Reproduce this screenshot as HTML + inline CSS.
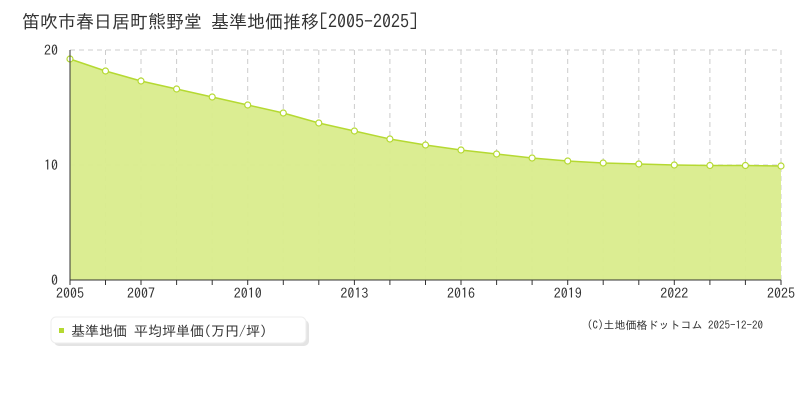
<!DOCTYPE html>
<html><head><meta charset="utf-8"><style>
body{margin:0;background:#fff;width:800px;height:400px;overflow:hidden;}
text{font-family:"IPAGothic","Noto Sans CJK JP",sans-serif;}
</style></head><body>
<svg width="800" height="400" xmlns="http://www.w3.org/2000/svg" style="position:absolute;left:0;top:0">
<text x="22" y="28" font-size="18" fill="#333">笛吹市春日居町熊野堂 基準地価推移[2005-2025]</text>
<g stroke="#ccc" stroke-dasharray="5,4" stroke-width="1">
<line x1="105.5" y1="50" x2="105.5" y2="280"/><line x1="141" y1="50" x2="141" y2="280"/><line x1="176.6" y1="50" x2="176.6" y2="280"/><line x1="212.2" y1="50" x2="212.2" y2="280"/><line x1="247.7" y1="50" x2="247.7" y2="280"/><line x1="283.3" y1="50" x2="283.3" y2="280"/><line x1="318.8" y1="50" x2="318.8" y2="280"/><line x1="354.4" y1="50" x2="354.4" y2="280"/><line x1="389.9" y1="50" x2="389.9" y2="280"/><line x1="425.5" y1="50" x2="425.5" y2="280"/><line x1="461" y1="50" x2="461" y2="280"/><line x1="496.6" y1="50" x2="496.6" y2="280"/><line x1="532.1" y1="50" x2="532.1" y2="280"/><line x1="567.7" y1="50" x2="567.7" y2="280"/><line x1="603.2" y1="50" x2="603.2" y2="280"/><line x1="638.8" y1="50" x2="638.8" y2="280"/><line x1="674.3" y1="50" x2="674.3" y2="280"/><line x1="709.9" y1="50" x2="709.9" y2="280"/><line x1="745.4" y1="50" x2="745.4" y2="280"/><line x1="781" y1="50" x2="781" y2="280"/>
<line x1="70" y1="50" x2="781" y2="50"/><line x1="70" y1="165" x2="781" y2="165"/>
</g>
<path d="M70,59 L105.5,71 L141,81 L176.6,89 L212.2,97 L247.7,105 L283.3,113 L318.8,123 L354.4,131 L389.9,139 L425.5,145 L461,150 L496.6,154 L532.1,158 L567.7,161 L603.2,163 L638.8,164 L674.3,165 L709.9,165.5 L745.4,165.5 L781,166 L781,280 L70,280 Z" fill="#d9ec8c" fill-opacity="0.95"/>
<polyline points="70,59 105.5,71 141,81 176.6,89 212.2,97 247.7,105 283.3,113 318.8,123 354.4,131 389.9,139 425.5,145 461,150 496.6,154 532.1,158 567.7,161 603.2,163 638.8,164 674.3,165 709.9,165.5 745.4,165.5 781,166" fill="none" stroke="#b5d932" stroke-width="1.5"/>
<g fill="#fff" stroke="#b5d932" stroke-width="1.2">
<circle cx="70" cy="59" r="3"/><circle cx="105.5" cy="71" r="3"/><circle cx="141" cy="81" r="3"/><circle cx="176.6" cy="89" r="3"/><circle cx="212.2" cy="97" r="3"/><circle cx="247.7" cy="105" r="3"/><circle cx="283.3" cy="113" r="3"/><circle cx="318.8" cy="123" r="3"/><circle cx="354.4" cy="131" r="3"/><circle cx="389.9" cy="139" r="3"/><circle cx="425.5" cy="145" r="3"/><circle cx="461" cy="150" r="3"/><circle cx="496.6" cy="154" r="3"/><circle cx="532.1" cy="158" r="3"/><circle cx="567.7" cy="161" r="3"/><circle cx="603.2" cy="163" r="3"/><circle cx="638.8" cy="164" r="3"/><circle cx="674.3" cy="165" r="3"/><circle cx="709.9" cy="165.5" r="3"/><circle cx="745.4" cy="165.5" r="3"/><circle cx="781" cy="166" r="3"/>
</g>
<line x1="70" y1="50" x2="70" y2="280" stroke="#333"/>
<line x1="70" y1="280" x2="781" y2="280" stroke="#333"/>
<g stroke="#333">
<line x1="70" y1="280" x2="70" y2="285"/><line x1="105.5" y1="280" x2="105.5" y2="285"/><line x1="141" y1="280" x2="141" y2="285"/><line x1="176.6" y1="280" x2="176.6" y2="285"/><line x1="212.2" y1="280" x2="212.2" y2="285"/><line x1="247.7" y1="280" x2="247.7" y2="285"/><line x1="283.3" y1="280" x2="283.3" y2="285"/><line x1="318.8" y1="280" x2="318.8" y2="285"/><line x1="354.4" y1="280" x2="354.4" y2="285"/><line x1="389.9" y1="280" x2="389.9" y2="285"/><line x1="425.5" y1="280" x2="425.5" y2="285"/><line x1="461" y1="280" x2="461" y2="285"/><line x1="496.6" y1="280" x2="496.6" y2="285"/><line x1="532.1" y1="280" x2="532.1" y2="285"/><line x1="567.7" y1="280" x2="567.7" y2="285"/><line x1="603.2" y1="280" x2="603.2" y2="285"/><line x1="638.8" y1="280" x2="638.8" y2="285"/><line x1="674.3" y1="280" x2="674.3" y2="285"/><line x1="709.9" y1="280" x2="709.9" y2="285"/><line x1="745.4" y1="280" x2="745.4" y2="285"/><line x1="781" y1="280" x2="781" y2="285"/>
</g>
<g font-size="14" fill="#333">
<text x="58" y="55" text-anchor="end">20</text><text x="58" y="170" text-anchor="end">10</text><text x="58" y="285" text-anchor="end">0</text>
<text x="70" y="298" text-anchor="middle">2005</text><text x="141" y="298" text-anchor="middle">2007</text><text x="247.7" y="298" text-anchor="middle">2010</text><text x="354.4" y="298" text-anchor="middle">2013</text><text x="461" y="298" text-anchor="middle">2016</text><text x="567.7" y="298" text-anchor="middle">2019</text><text x="674.3" y="298" text-anchor="middle">2022</text><text x="781" y="298" text-anchor="middle">2025</text>
</g>
<rect x="54" y="320" width="255" height="26" rx="5" fill="#e4e4e4"/>
<rect x="51" y="317" width="255" height="26" rx="5" fill="#fff" stroke="#eee"/>
<rect x="59" y="328" width="5" height="5" fill="#b5d932"/>
<text x="71" y="336" font-size="14" fill="#333">基準地価 平均坪単価(万円/坪)</text>
<text x="763" y="329" font-size="11" fill="#333" text-anchor="end">(C)土地価格ドットコム 2025-12-20</text>
</svg>
</body></html>
